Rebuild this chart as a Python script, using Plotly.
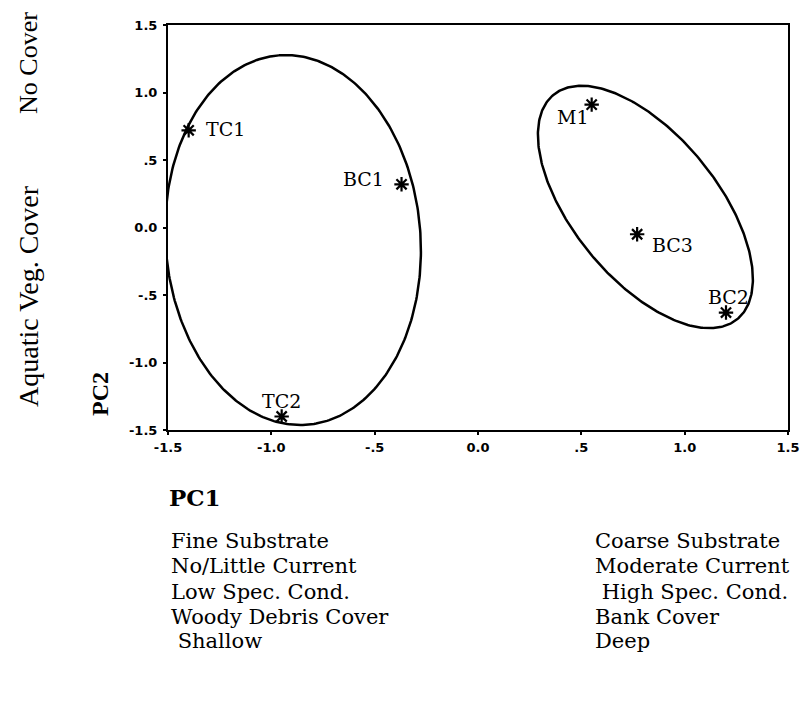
import numpy as np
import plotly.graph_objects as go

# Site scores on the first two principal components
sites = ["TC1", "BC1", "TC2", "M1", "BC3", "BC2"]
pc1 = [-1.40, -0.37, -0.95, 0.55, 0.77, 1.20]
pc2 = [0.72, 0.32, -1.40, 0.91, -0.05, -0.63]

# Group ellipses: centre and two conjugate half-diameters (PC units)
ellipse_centres = [(-0.895, -0.093), (0.810, 0.152)]
ellipse_u = [(-0.069, 1.368), (0.447, -0.828)]
ellipse_v = [(0.615, 0.076), (-0.266, -0.347)]

# Axis ticks
tick_vals = [-1.5, -1.0, -0.5, 0.0, 0.5, 1.0, 1.5]
tick_text = ["-1.5", "-1.0", "-.5", "0.0", ".5", "1.0", "1.5"]

# Habitat gradients described by each axis
pc2_high = "No Cover"
pc2_low = "Aquatic Veg. Cover"
pc1_low = ["Fine Substrate", "No/Little Current", "Low Spec. Cond.",
           "Woody Debris Cover", " Shallow"]
pc1_high = ["Coarse Substrate", "Moderate Current", " High Spec. Cond.",
            "Bank Cover", "Deep"]

# Label placement around each marker: (xanchor, xshift, yshift)
label_pos = {
    "TC1": ("left", 15, 1),
    "BC1": ("right", -16, 5),
    "TC2": ("center", 0, 16),
    "M1": ("right", -1, -12),
    "BC3": ("left", 13, -11),
    "BC2": ("center", 2, 16),
}

SERIF = "Liberation Serif, Times New Roman, serif"
WIDE_SERIF = "DejaVu Serif, serif"
SANS = "DejaVu Sans, Arial, sans-serif"

fig = go.Figure()

t = np.linspace(0, 2 * np.pi, 361)
for (cx, cy), (ux, uy), (vx, vy) in zip(ellipse_centres, ellipse_u, ellipse_v):
    fig.add_trace(go.Scatter(
        x=cx + ux * np.cos(t) + vx * np.sin(t),
        y=cy + uy * np.cos(t) + vy * np.sin(t),
        mode="lines", line=dict(color="black", width=2.5),
        hoverinfo="skip", showlegend=False,
    ))

fig.add_trace(go.Scatter(
    x=pc1, y=pc2, mode="markers", text=sites,
    marker=dict(symbol="asterisk-open", size=12, color="black",
                line=dict(color="black", width=2.2)),
    showlegend=False,
))

annotations = []
for name, x, y in zip(sites, pc1, pc2):
    xa, xs, ys = label_pos[name]
    annotations.append(dict(
        x=x, y=y, xref="x", yref="y", text=name, showarrow=False,
        xanchor=xa, yanchor="middle", xshift=xs, yshift=ys,
        font=dict(family=WIDE_SERIF, size=19, color="black"),
    ))

# Rotated PC2 descriptors on the far left
annotations.append(dict(
    x=-0.2242, y=0.9062, xref="paper", yref="paper", text=pc2_high,
    textangle=-90, showarrow=False, xanchor="center", yanchor="middle",
    font=dict(family=SERIF, size=26, color="black"),
))
annotations.append(dict(
    x=-0.2242, y=0.3309, xref="paper", yref="paper", text=pc2_low,
    textangle=-90, showarrow=False, xanchor="center", yanchor="middle",
    font=dict(family=SERIF, size=28, color="black"),
))
annotations.append(dict(
    x=-0.1097, y=0.0889, xref="paper", yref="paper", text="<b>PC2</b>",
    textangle=-90, showarrow=False, xanchor="center", yanchor="middle",
    font=dict(family=SERIF, size=24, color="black"),
))
annotations.append(dict(
    x=-0.002, y=-0.1655, xref="paper", yref="paper", text="<b>PC1</b>",
    showarrow=False, xanchor="left", yanchor="middle",
    font=dict(family=WIDE_SERIF, size=23, color="black"),
))

# PC1 descriptors, one row each
row_y = [-0.2753, -0.3370, -0.3988, -0.4605, -0.5222]
for i, (lo, hi) in enumerate(zip(pc1_low, pc1_high)):
    for txt, xp in ((lo, 0.0016), (hi, 0.6852)):
        annotations.append(dict(
            x=xp, y=row_y[i], xref="paper", yref="paper", text=txt,
            showarrow=False, xanchor="left", yanchor="middle",
            font=dict(family=WIDE_SERIF, size=21, color="black"),
        ))

axis_common = dict(
    range=[-1.5, 1.5], tickvals=tick_vals, ticktext=tick_text,
    showgrid=False, zeroline=False, showline=True, mirror=True,
    linecolor="black", linewidth=2, ticks="outside", ticklen=3,
    tickwidth=1.5, tickcolor="black",
    tickfont=dict(family=SANS, size=13, color="black", weight="bold"),
)

fig.update_layout(
    width=812, height=708,
    margin=dict(l=168, r=15, t=25, b=278),
    paper_bgcolor="white", plot_bgcolor="white",
    xaxis=dict(axis_common, ticklabelstandoff=1),
    yaxis=dict(axis_common, ticklabelstandoff=3),
    annotations=annotations,
    showlegend=False,
)

fig.write_html("out.html")
